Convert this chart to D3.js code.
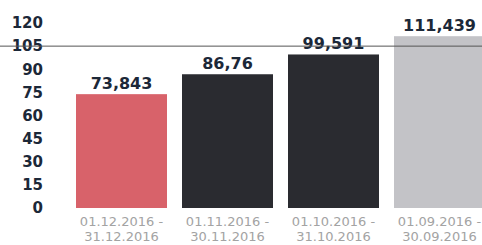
<!DOCTYPE html>
<html>
<head>
<meta charset="utf-8">
<script src="https://cdn.jsdelivr.net/npm/d3@7"></script>
<style>
  body { margin: 0; background: #fff; }
  svg { display: block; font-family: "DejaVu Sans", sans-serif; }
</style>
</head>
<body>
<div id="chart"></div>
<script>
// chart data
const periodStart = ["01.12.2016", "01.11.2016", "01.10.2016", "01.09.2016"];
const periodEnd = ["31.12.2016", "30.11.2016", "31.10.2016", "30.09.2016"];
const values = [73.843, 86.76, 99.591, 111.439];
const valueLabels = ["73,843", "86,76", "99,591", "111,439"];
const yTicks = [0, 15, 30, 45, 60, 75, 90, 105, 120];
const targetLine = 105;

// colours of the bars
const barColors = ["#d8626a", "#2a2b30", "#2a2b30", "#c3c3c7"];

var width = 482, height = 245;

var svg = d3.select("#chart").append("svg")
    .attr("width", width)
    .attr("height", height);

//y scale, 0 sits on the bar bottoms
var y = d3.scaleLinear()
    .domain([0, 120])
    .range([208, 23]);

//x scale, one band per period
var x = d3.scaleBand()
    .domain(d3.range(values.length))
    .range([76, 485])
    .paddingInner(0.1415)
    .paddingOuter(0);

//y axis, labels only
var yAxis = svg.append("g")
    .attr("transform", "translate(48,0)")
    .call(d3.axisLeft(y).tickValues(yTicks).tickSize(0).tickPadding(5));
yAxis.select(".domain").remove();
yAxis.selectAll("text")
    .attr("fill", "#1c2838")
    .style("font-size", "15px")
    .style("font-weight", "bold")
    .style("font-family", "DejaVu Sans, sans-serif");

//bars
svg.append("g")
    .selectAll("rect")
    .data(values)
    .enter()
    .append("rect")
    .attr("x", function(d, i) { return x(i); })
    .attr("y", function(d) { return y(d); })
    .attr("width", x.bandwidth())
    .attr("height", function(d) { return y(0) - y(d); })
    .attr("fill", function(d, i) { return barColors[i]; });

//value labels above bars
svg.append("g")
    .selectAll("text")
    .data(values)
    .enter()
    .append("text")
    .attr("x", function(d, i) { return x(i) + x.bandwidth() / 2; })
    .attr("y", function(d) { return y(d) - 5; })
    .attr("text-anchor", "middle")
    .attr("fill", "#1c2838")
    .style("font-size", "16px")
    .style("font-weight", "bold")
    .text(function(d, i) { return valueLabels[i]; });

//target line at 105
svg.append("line")
    .attr("x1", 0)
    .attr("x2", width)
    .attr("y1", y(targetLine))
    .attr("y2", y(targetLine))
    .attr("stroke", "#555")
    .attr("stroke-width", 1);

//period labels under bars
var periods = svg.append("g")
    .selectAll("text")
    .data(periodStart)
    .enter()
    .append("text")
    .attr("x", function(d, i) { return x(i) + x.bandwidth() / 2; })
    .attr("text-anchor", "middle")
    .attr("fill", "#a3a3a3")
    .style("font-size", "13px");

periods.append("tspan")
    .attr("y", 226)
    .text(function(d) { return d + " -"; });

periods.append("tspan")
    .attr("x", function(d, i) { return x(i) + x.bandwidth() / 2; })
    .attr("y", 241)
    .text(function(d, i) { return periodEnd[i]; });
</script>
</body>
</html>
